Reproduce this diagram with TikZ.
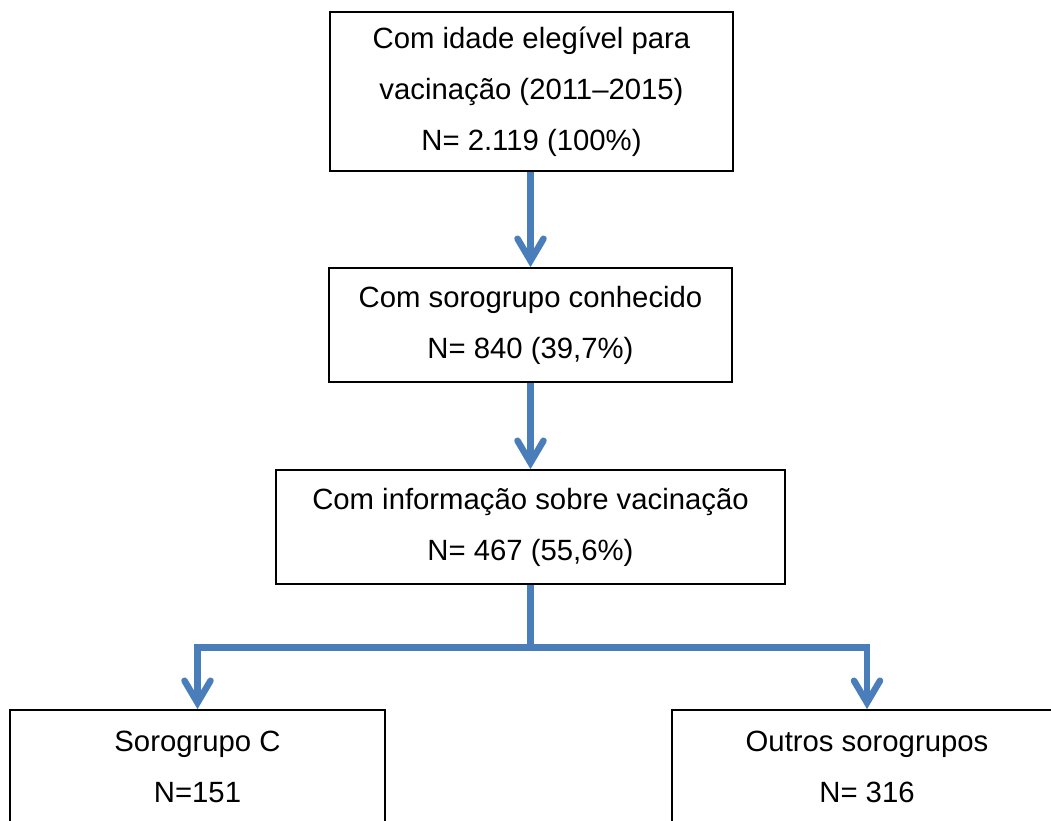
\documentclass[tikz,border=0pt]{standalone}
\usepackage{fontspec}
\setmainfont{Liberation Sans}
\usetikzlibrary{arrows.meta}
\definecolor{flowblue}{RGB}{74,126,187}
\tikzset{
  box/.style={draw=black, line width=1.8pt, rectangle, inner sep=0pt, align=center,
    font=\fontsize{29.3pt}{51pt}\selectfont},
  flow/.style={draw=flowblue, line width=6.5pt,
    -{Straight Barb[length=22pt, width=26pt, line cap=round, line join=miter]}}
}
\begin{document}
\begin{tikzpicture}[x=1pt,y=-1pt]
\useasboundingbox (0,0) rectangle (1051,820);
\clip (0,0) rectangle (1051,820);
\node[box, minimum width=403pt, minimum height=159pt] (n1) at (531.5,91.5)
  {Com idade elegível para\\vacinação (2011–2015)\\N= 2.119 (100\%)};
\node[box, minimum width=403pt, minimum height=114pt] (n2) at (530.5,325)
  {Com sorogrupo conhecido\\N= 840 (39,7\%)};
\node[box, minimum width=509pt, minimum height=114pt] (n3) at (530.5,527)
  {Com informação sobre vacinação\\N= 467 (55,6\%)};
\node[box, minimum width=375pt, minimum height=114pt] (n4) at (197.5,767)
  {Sorogrupo C\\N=151};
\node[box, minimum width=390pt, minimum height=114pt] (n5) at (867,767)
  {Outros sorogrupos\\N= 316};
\coordinate (split) at (530.5,647.5);
\draw[flow] (n1.south -| n2.north) -- (n2.north);
\draw[flow] (n2.south) -- (n3.north);
\draw[flow] (n3.south) -- (split) -| (n4.north);
\draw[flow] (split) -| (n5.north);
\end{tikzpicture}
\end{document}
